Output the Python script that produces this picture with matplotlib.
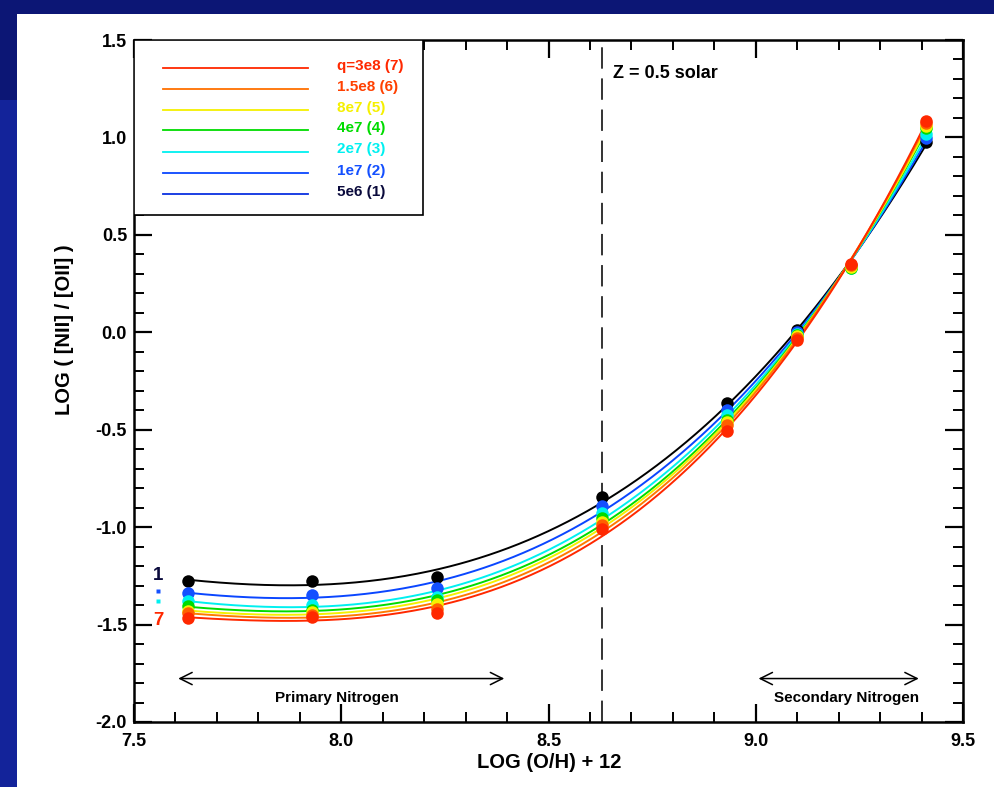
import numpy as np
import matplotlib
matplotlib.use("Agg")
import matplotlib.pyplot as plt
from matplotlib.patches import Rectangle
from matplotlib.ticker import MultipleLocator

plt.rcParams['font.family'] = ['Liberation Sans', 'DejaVu Sans']
plt.rcParams['font.weight'] = 'bold'

# ---------------- data ----------------
log_oh = [7.63, 7.93, 8.23, 8.63, 8.93, 9.10, 9.23, 9.41]

series_labels = ["q=3e8 (7)", "1.5e8 (6)", "8e7 (5)", "4e7 (4)", "2e7 (3)", "1e7 (2)", "5e6 (1)"]

# LOG([NII]/[OII]) for q index 1..7
nii_oii_1 = [-1.274, -1.274, -1.257, -0.846, -0.363, 0.010, 0.340, 0.977]
nii_oii_2 = [-1.339, -1.346, -1.311, -0.894, -0.397, 0.000, 0.335, 0.995]
nii_oii_3 = [-1.380, -1.397, -1.359, -0.928, -0.426, -0.010, 0.330, 1.020]
nii_oii_4 = [-1.407, -1.424, -1.376, -0.954, -0.449, -0.015, 0.330, 1.050]
nii_oii_5 = [-1.428, -1.438, -1.394, -0.974, -0.461, -0.020, 0.335, 1.058]
nii_oii_6 = [-1.443, -1.450, -1.419, -0.991, -0.478, -0.030, 0.345, 1.075]
nii_oii_7 = [-1.465, -1.462, -1.441, -1.008, -0.508, -0.040, 0.350, 1.085]

z_half_solar = 8.63

# ---------------- styling ----------------
series = [nii_oii_1, nii_oii_2, nii_oii_3, nii_oii_4, nii_oii_5, nii_oii_6, nii_oii_7]
curve_colors = ['#000000', '#0a46ff', '#00f0f0', '#00dc00', '#f5f000', '#ff7a00', '#ff2800']
point_colors = ['#000000', '#1450ff', '#00f0f0', '#00dc00', '#f5f000', '#ff6000', '#ff2800']
legend_line_colors = ['#ff2800', '#ff7000', '#f5f000', '#00dc00', '#00f0f0', '#0a46ff', '#0a30e0']
legend_text_colors = ['#ff2800', '#ff4000', '#f5f000', '#00dc00', '#00f0f0', '#1450ff', '#0a0a3c']

W, H = 994, 787
fig = plt.figure(figsize=(W / 100, H / 100), dpi=100)
fig.patch.set_facecolor('#0c1675')
# lighter blue lower part of the left strip
fig.patches.append(Rectangle((0, 0), 17 / W, (H - 100) / H, transform=fig.transFigure,
                             facecolor='#13239a', edgecolor='none', zorder=-11))
# white slide area
fig.patches.append(Rectangle((17 / W, 0), 1 - 17 / W, (H - 14) / H, transform=fig.transFigure,
                             facecolor='white', edgecolor='none', zorder=-10))

ax = fig.add_axes([134 / W, 1 - 722 / H, (963 - 134) / W, (722 - 40) / H])
ax.set_zorder(5)
ax.set_facecolor('white')

xfine = np.linspace(log_oh[0], log_oh[-1], 300)
x = np.array(log_oh)
for i, yv in enumerate(series):
    yv = np.array(yv)
    coef = np.polyfit(x, yv, 3)
    ax.plot(xfine, np.polyval(coef, xfine), color=curve_colors[i], lw=1.4, zorder=3 + i)
    ax.plot(x, yv, 'o', color=point_colors[i], ms=9, mec='none', zorder=10 + i)

ax.axvline(z_half_solar, color='#333333', lw=1.4, dashes=(11, 5), zorder=2)

ax.set_xlim(7.5, 9.5)
ax.set_ylim(-2.0, 1.5)
ax.xaxis.set_major_locator(MultipleLocator(0.5))
ax.xaxis.set_minor_locator(MultipleLocator(0.1))
ax.yaxis.set_major_locator(MultipleLocator(0.5))
ax.yaxis.set_minor_locator(MultipleLocator(0.1))
ax.xaxis.set_major_formatter(matplotlib.ticker.FormatStrFormatter('%.1f'))
ax.yaxis.set_major_formatter(matplotlib.ticker.FormatStrFormatter('%.1f'))
ax.tick_params(which='both', direction='in', top=True, right=True, color='black')
ax.tick_params(which='major', length=13, width=1.6, labelsize=13)
ax.tick_params(which='minor', length=7, width=1.4)
ax.tick_params(axis='x', which='major', pad=8)
ax.tick_params(axis='y', which='major', pad=5)
for lab in ax.get_xticklabels() + ax.get_yticklabels():
    lab.set_fontweight('bold')
for sp in ax.spines.values():
    sp.set_linewidth(1.8)

fig.text(549 / W, 1 - 763 / H, "LOG (O/H) + 12", ha='center', va='center', fontsize=14.5, fontweight='bold')
fig.text(65 / W, 1 - 330 / H, "LOG ( [NII] / [OII] )", ha='center', va='center', rotation=90,
         fontsize=14.5, fontweight='bold')

ax.text(8.655, 1.33, "Z = 0.5 solar", ha='left', va='center', fontsize=13, fontweight='bold')

# legend box (manual)
ax.add_patch(Rectangle((0, 0.7434), 0.3486, 0.2566, transform=ax.transAxes, facecolor='white',
                       edgecolor='black', lw=1.2, zorder=20))
leg_y = [0.9585, 0.9277, 0.8969, 0.8676, 0.8362, 0.8045, 0.7737]
for i in range(7):
    ax.plot([0.035, 0.21], [leg_y[i], leg_y[i]], transform=ax.transAxes, color=legend_line_colors[i],
            lw=1.3, zorder=21)
    ax.text(0.2449, leg_y[i] + 0.004, series_labels[i], transform=ax.transAxes, color=legend_text_colors[i],
            fontsize=11, fontweight='bold', va='center', ha='left', zorder=22)

# regime arrows
ax.annotate('', xy=(7.6, -1.777), xytext=(8.4, -1.777),
            arrowprops=dict(arrowstyle='<->', color='black', lw=1.1, mutation_scale=22), zorder=5)
ax.annotate('', xy=(9.0, -1.777), xytext=(9.4, -1.777),
            arrowprops=dict(arrowstyle='<->', color='black', lw=1.1, mutation_scale=22), zorder=5)
ax.text(7.99, -1.875, "Primary Nitrogen", ha='center', va='center', fontsize=11, fontweight='bold')
ax.text(9.22, -1.875, "Secondary Nitrogen", ha='center', va='center', fontsize=11, fontweight='bold')

# q index markers on left
ax.text(7.558, -1.248, "1", color='#0a0a3c', ha='center', va='center', fontsize=13.5, fontweight='bold')
ax.text(7.558, -1.48, "7", color='#ff2800', ha='center', va='center', fontsize=13.5, fontweight='bold')
ax.plot([7.558], [-1.329], 's', color='#1450ff', ms=3, mec='none')
ax.plot([7.558], [-1.380], 's', color='#00f0f0', ms=3, mec='none')

fig.savefig("out.png", dpi=100, facecolor=fig.get_facecolor())
